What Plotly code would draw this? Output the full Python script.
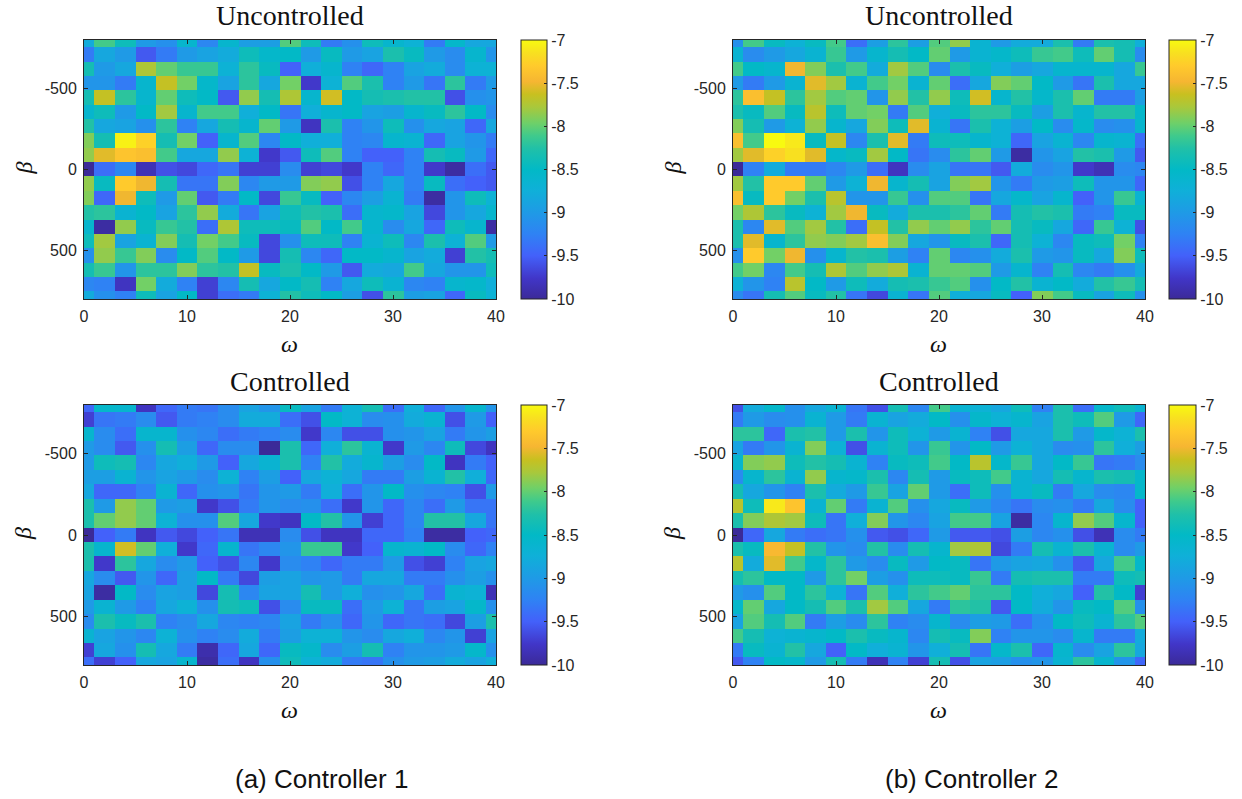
import plotly.graph_objects as go
import numpy as np

omega = list(range(0, 41, 2))
beta = [round(-800 + i * 1600 / 18, 2) for i in range(19)]

# magnitudes of the plotted values (all plotted values are negative)
c1_uncontrolled = [
[8.8,8.1,8.4,9.0,9.1,8.6,9.2,8.6,8.95,8.95,8.05,8.4,9.3,9.1,8.4,8.6,8.7,9.3,8.55,8.85,8.85],
[9.3,8.85,9.0,9.55,9.3,9.0,8.9,8.8,8.4,8.55,8.5,9.0,8.45,9.0,8.9,8.3,8.45,9.0,9.15,8.6,9.05],
[8.35,9.0,8.85,7.75,8.0,8.15,8.15,8.7,8.2,8.45,9.5,8.75,8.6,9.25,9.45,9.25,8.9,8.8,9.15,8.7,8.7],
[9.05,9.05,9.3,8.6,7.65,7.95,8.55,8.9,8.2,8.85,7.95,9.75,8.7,8.05,8.3,9.25,9.0,9.35,8.2,9.3,9.0],
[8.35,7.65,8.2,8.6,8.0,8.4,8.5,9.55,7.85,8.35,7.75,8.6,7.6,8.5,8.35,8.3,8.25,8.25,9.6,9.1,9.05],
[8.6,8.4,9.0,8.5,7.8,8.6,8.1,8.1,8.75,8.5,9.35,8.75,8.6,8.5,8.9,8.95,8.6,8.45,8.2,8.5,9.15],
[8.25,8.85,8.9,9.1,8.2,9.25,8.85,8.35,8.6,8.0,9.0,9.8,8.3,9.25,9.05,8.4,9.1,8.85,8.9,9.45,8.85],
[7.9,8.35,7.05,7.25,8.35,7.95,9.5,8.6,8.05,9.2,8.5,8.75,8.75,9.25,9.2,8.6,8.65,9.45,8.9,9.05,9.3],
[7.85,7.55,7.35,7.4,8.1,8.85,8.85,7.85,8.7,9.75,9.55,8.4,8.05,9.25,9.5,9.5,9.25,8.35,8.45,9.0,9.45],
[10,9.4,9.2,9.85,9.6,9.65,9.45,9.35,9.7,9.7,9.15,9.7,9.65,9.75,9.25,9.45,9.25,9.75,9.95,9.4,9.55],
[7.85,8.45,7.3,7.5,8.35,9.35,9.35,7.9,9.2,9.0,9.0,7.9,7.85,9.6,9.25,8.85,9.25,8.45,9.4,9.5,9.55],
[7.9,9.45,7.5,8.4,9.0,8.0,9.55,9.3,8.5,9.65,8.15,8.45,9.5,9.2,8.95,8.65,9.3,9.95,9.05,8.4,8.7],
[8.25,8.2,8.65,8.5,8.9,8.2,7.85,8.8,9.35,8.9,8.4,8.25,8.3,9.4,8.6,8.55,8.9,9.65,9.05,8.85,8.6],
[8.6,9.95,7.85,8.45,8.15,8.25,9.4,7.75,8.4,8.4,8.45,8.05,8.5,8.1,8.6,9.15,8.85,9.45,8.4,8.6,9.95],
[8.4,7.8,8.9,8.65,7.9,8.35,7.95,8.1,8.45,9.65,9.1,8.4,8.4,9.25,8.65,8.4,9.2,8.3,8.7,8.05,9.0],
[9.1,7.85,8.15,7.9,9.15,8.5,8.05,8.5,9.0,9.65,8.35,9.2,9.45,8.5,8.5,8.6,8.9,8.8,9.7,8.25,8.35],
[8.35,8.15,9.05,8.2,8.2,7.9,8.2,8.25,7.65,8.45,8.3,8.5,9.0,9.55,8.8,8.85,8.1,8.85,9.05,9.05,8.4],
[9.2,9.25,9.8,7.95,8.8,9.25,9.7,9.2,8.35,8.85,8.5,8.35,9.25,8.85,8.4,8.65,9.2,9.25,8.6,8.55,8.75],
[8.8,9.1,9.25,8.4,8.9,8.5,9.7,9.4,9.3,8.7,8.25,8.4,8.5,8.95,9.6,8.2,8.95,8.9,9.45,8.45,8.7],
]
c2_uncontrolled = [
[9.1,8.1,8.45,8.7,8.45,8.1,9.4,8.95,8.2,8.95,8.05,7.85,8.65,9.0,8.8,8.8,8.3,9.3,8.3,8.35,8.75],
[8.65,9.15,9.0,8.85,8.65,8.15,9.0,8.6,8.35,8.5,8.0,9.0,8.65,8.55,8.4,8.15,8.1,8.4,8.0,8.35,9.15],
[8.1,8.5,8.6,7.5,7.9,8.3,8.1,8.8,7.8,8.05,9.15,8.3,8.45,8.75,8.95,8.85,8.6,8.6,8.6,8.85,8.15],
[9.0,9.3,9.0,8.65,7.55,7.8,8.65,8.1,7.95,8.65,8.0,9.4,8.85,7.9,8.0,8.5,9.0,9.35,8.3,8.85,8.85],
[8.2,7.4,7.65,8.2,7.8,8.05,8.0,9.05,7.85,8.25,7.85,8.4,7.6,8.6,8.25,8.55,8.3,8.0,9.3,9.3,8.95],
[8.3,8.45,8.05,8.45,7.7,8.4,8.0,7.95,9.3,8.05,8.75,8.45,8.2,8.2,8.45,8.95,8.3,8.6,8.25,8.25,8.55],
[7.9,8.35,9.0,8.7,7.85,8.6,8.85,7.9,8.4,7.55,8.65,9.35,8.3,8.7,8.95,8.5,9.15,8.55,9.15,9.1,8.6],
[7.4,8.1,7.0,7.1,8.45,7.65,9.2,8.3,7.55,9.3,8.4,8.4,8.6,8.7,9.45,8.9,8.65,9.2,8.6,8.65,9.4],
[7.8,7.55,7.25,7.15,7.55,8.55,8.45,7.8,8.5,9.35,9.15,8.2,8.0,9.0,9.95,9.05,8.9,8.25,8.3,9.0,9.55],
[10,9.25,8.8,9.3,9.3,9.2,9.0,9.4,9.8,9.15,8.9,9.35,9.35,9.55,8.8,9.15,9.05,9.75,9.85,9.15,9.2],
[7.8,8.25,7.3,7.3,8.0,9.0,8.7,7.5,8.6,8.35,8.9,7.9,7.8,9.05,9.3,9.0,8.95,8.4,9.05,9.05,9.45],
[7.4,8.45,7.3,7.95,8.3,7.7,9.05,9.05,8.15,9.1,8.05,8.05,9.35,8.85,8.55,8.9,8.6,9.5,9.05,8.15,8.65],
[7.95,7.75,8.2,8.45,8.7,7.8,7.5,8.45,8.8,8.3,8.3,8.2,8.0,9.3,8.35,8.25,8.3,9.3,9.25,8.45,8.45],
[8.3,9.2,7.55,8.05,7.8,8.25,9.4,7.65,8.25,7.85,8.0,7.85,8.2,8.0,8.35,8.45,8.85,9.45,8.15,8.7,9.6],
[8.3,7.55,8.6,8.2,7.85,7.9,7.8,7.4,7.9,8.85,9.05,8.45,8.3,9.45,8.35,8.7,9.2,8.45,8.4,7.95,9.25],
[9.1,7.3,7.95,7.5,9.1,8.6,8.25,8.3,8.95,9.25,8.0,9.2,9.1,8.8,8.3,9.0,9.05,8.45,8.85,7.9,8.4],
[8.1,7.95,9.2,8.1,8.35,7.75,8.05,7.85,7.75,8.65,8.0,8.0,8.05,9.0,8.6,9.25,8.35,9.2,9.3,9.1,8.8],
[8.7,9.05,9.25,7.7,8.5,9.0,8.4,8.8,8.35,8.3,8.15,8.05,9.1,8.5,8.25,8.65,8.5,8.8,8.25,8.15,8.35],
[9.15,9.35,8.35,8.05,8.45,8.25,9.35,9.65,8.65,9.35,8.05,8.75,8.85,8.45,9.5,7.9,8.1,8.45,8.9,8.4,9.1],
]
c1_controlled = [
[9.45,8.55,8.6,9.8,9.45,9.3,9.35,9.15,8.9,9.05,8.45,8.9,9.3,8.7,8.35,9.4,8.75,9.45,9.05,8.6,9.05],
[9.7,9.35,9.3,9.15,9.55,9.3,9.25,9.15,8.8,8.8,9.4,9.6,8.5,8.7,9.15,9.1,8.8,8.65,9.6,9.0,9.5],
[8.6,9.15,9.4,8.6,8.6,9.1,9.2,9.4,9.3,9.25,9.15,9.75,9.2,9.6,9.6,9.1,9.05,8.9,9.3,9.05,8.95],
[9.0,9.15,9.55,9.1,8.35,8.95,9.45,9.15,9.15,10.0,8.3,9.45,8.75,8.2,8.65,9.75,9.0,9.2,8.4,9.65,9.8],
[9.0,8.4,8.35,9.2,8.85,8.75,9.0,9.5,8.85,8.65,8.3,9.25,8.25,8.8,8.6,8.95,9.15,8.5,9.8,9.3,9.5],
[8.95,8.95,8.65,9.05,8.9,9.0,9.15,8.7,9.25,8.95,9.5,8.85,8.7,8.85,9.3,9.3,8.95,8.65,8.25,8.75,9.45],
[8.85,9.45,9.45,9.25,8.65,9.45,9.1,9.05,9.35,9.05,9.0,9.3,8.75,9.4,9.05,8.5,9.1,9.2,9.25,9.6,9.0],
[8.3,9.0,7.85,8.0,9.0,8.95,9.75,9.6,9.3,9.05,9.15,9.1,9.4,9.75,9.05,9.45,9.2,9.4,9.0,9.35,9.35],
[8.3,8.0,7.85,8.0,8.7,9.1,9.1,8.05,8.85,9.75,9.8,8.5,8.25,9.05,9.7,9.45,9.2,8.25,8.25,8.85,9.35],
[10,9.5,9.3,9.8,9.55,9.65,9.5,9.35,9.85,9.85,9.15,9.6,9.8,9.8,9.45,9.45,9.25,9.95,9.95,9.5,9.45],
[8.3,8.6,7.6,8.0,8.75,9.75,9.45,8.6,9.35,9.2,9.05,8.15,8.15,9.75,9.5,8.6,8.65,8.5,9.15,9.45,9.25],
[8.3,9.75,8.2,8.85,9.15,9.0,9.5,9.6,9.2,9.75,9.15,9.25,9.45,9.3,9.3,9.0,9.6,9.7,9.25,8.9,8.85],
[8.85,9.15,9.55,9.05,9.45,8.95,8.5,9.3,9.65,8.95,8.9,9.05,9.0,9.3,8.85,8.85,9.3,9.3,9.1,8.95,9.1],
[8.9,9.95,8.5,9.15,8.9,8.95,9.65,8.35,9.2,8.9,8.9,8.35,9.0,8.75,9.1,9.05,8.85,9.4,8.65,8.7,9.85],
[9.0,8.65,9.0,9.25,8.85,8.7,9.1,8.35,8.4,9.6,9.15,8.45,8.45,9.4,9.0,8.7,9.35,8.95,8.9,8.55,9.1],
[9.15,8.3,8.45,8.3,9.25,9.15,8.85,9.2,9.25,9.2,8.9,9.3,9.1,9.45,9.05,9.45,9.35,9.4,9.65,8.95,8.3],
[8.65,8.9,9.05,9.2,8.7,9.1,9.25,9.15,8.8,9.3,8.95,8.7,8.7,9.05,9.15,8.85,8.75,9.2,9.05,9.7,8.9],
[9.7,8.85,9.1,8.35,8.85,9.3,9.9,9.45,8.85,9.45,8.45,8.55,9.15,8.95,8.35,9.25,9.05,9.05,9.0,8.55,9.1],
[9.4,9.7,9.5,8.85,8.9,8.6,9.95,9.4,9.8,9.1,8.4,8.7,8.8,9.3,9.35,9.1,9.0,8.95,8.8,8.9,8.75],
]
c2_controlled = [
[9.6,8.8,8.55,9.1,8.85,8.65,9.35,9.6,8.35,9.2,8.1,8.65,8.7,8.85,8.4,9.25,8.3,9.4,8.55,8.4,8.65],
[9.3,9.0,9.15,9.1,8.65,9.0,9.3,8.65,8.9,8.8,8.5,9.1,8.55,8.7,8.6,8.9,8.3,8.4,8.05,9.0,9.45],
[8.2,8.2,9.45,8.3,8.25,9.0,8.3,9.05,8.4,8.7,9.0,8.65,9.25,9.6,8.85,8.85,8.3,9.0,8.55,8.7,8.3],
[8.9,9.3,9.05,8.65,7.9,8.7,9.6,8.65,8.4,9.05,8.15,9.05,8.5,9.0,8.7,8.85,9.15,9.1,8.2,8.75,8.95],
[8.6,7.9,7.85,8.4,8.25,8.35,8.65,9.25,8.45,8.4,8.1,8.5,7.7,8.55,8.15,8.85,8.5,8.15,9.35,9.3,9.15],
[9.15,8.6,8.2,8.65,7.85,8.6,8.55,8.3,9.2,8.35,9.0,8.45,8.4,8.1,8.65,8.85,8.35,8.6,8.3,8.35,8.55],
[8.35,8.85,9.05,9.25,8.3,8.8,9.0,8.15,8.9,8.0,9.0,9.4,8.4,9.1,8.65,8.45,9.3,8.85,9.15,9.2,8.55],
[7.7,8.4,7.1,7.35,8.65,8.0,9.3,8.65,8.05,9.1,8.85,8.45,9.0,9.2,9.35,9.15,9.1,9.3,8.85,9.15,9.5],
[8.3,7.9,7.75,7.8,8.4,9.35,8.75,7.9,9.05,9.2,8.9,8.1,8.1,8.9,9.95,9.2,8.6,7.85,8.05,8.6,9.5],
[10,9.45,8.85,9.3,9.4,9.35,9.1,9.55,9.6,9.45,9.0,9.55,9.55,9.6,8.95,9.2,9.1,9.6,9.85,9.15,9.3],
[8.3,8.45,7.45,7.65,8.25,9.05,9.15,8.25,9.15,8.35,8.6,7.8,7.75,9.65,9.3,8.35,8.65,8.3,8.65,9.15,9.0],
[7.7,8.8,7.55,8.1,8.55,8.2,9.0,9.15,8.45,9.0,8.5,8.45,9.35,9.0,8.9,8.85,9.1,9.55,8.85,8.1,8.55],
[8.35,8.2,8.5,8.5,9.0,8.2,7.95,8.95,9.1,8.4,8.4,8.45,8.15,9.3,8.35,8.3,8.3,9.3,9.3,8.4,8.35],
[9.0,9.1,8.05,8.5,8.2,8.7,9.35,8.05,8.75,8.2,8.1,8.0,8.2,8.2,8.5,8.75,8.85,9.5,8.25,8.5,9.7],
[8.55,8.0,8.85,8.5,8.35,8.05,8.3,7.8,8.05,8.85,9.3,8.2,8.25,9.55,8.5,8.8,9.05,8.45,8.5,8.05,9.1],
[8.9,8.05,8.35,8.05,9.3,8.95,9.15,8.2,9.25,9.15,8.6,9.15,8.95,9.0,9.4,9.1,8.5,8.4,8.65,8.2,8.05],
[8.1,8.35,8.7,8.65,8.6,8.5,8.3,8.45,8.6,9.2,8.35,8.45,7.9,9.25,9.05,9.05,9.15,8.6,9.3,9.3,8.8],
[9.3,8.45,8.65,8.25,8.85,9.5,8.5,8.75,8.65,9.05,8.75,8.35,9.35,8.55,8.3,9.45,8.6,9.15,8.9,8.2,8.85],
[9.55,9.25,8.5,8.55,9.0,8.35,9.3,9.85,9.25,9.7,8.35,9.6,8.9,8.95,9.1,9.05,8.65,8.2,8.6,9.05,9.45],
]
titles = ["Uncontrolled", "Uncontrolled", "Controlled", "Controlled"]
captions = ["(a) Controller 1", "(b) Controller 2"]
cb_ticks = [-7, -7.5, -8, -8.5, -9, -9.5, -10]
cb_text = ["-7", "-7.5", "-8", "-8.5", "-9", "-9.5", "-10"]

parula = [
    [0.00, "#3b2a98"], [0.08, "#4136c8"], [0.167, "#4361fa"], [0.25, "#2f82f4"],
    [0.333, "#1f9ae6"], [0.42, "#0fb0d8"], [0.50, "#02b9c6"], [0.58, "#20c0a8"],
    [0.63, "#3fca8c"], [0.68, "#6fd068"], [0.74, "#a8c83c"], [0.79, "#c8c020"],
    [0.84, "#f6b632"], [0.90, "#ffca2c"], [0.95, "#f8e020"], [1.00, "#f8fa10"],
]

W, H = 1242, 799
INK = "#262626"
sans = "Liberation Sans"
serif = "Liberation Serif"
panels = [
    (c1_uncontrolled, 84, 496, 40, 299, 521, 547),
    (c2_uncontrolled, 733, 1145, 40, 299, 1169, 1196),
    (c1_controlled, 84, 496, 405, 665, 521, 547),
    (c2_controlled, 733, 1145, 405, 665, 1169, 1196),
]

fig = go.Figure()
layout = {}
ann = []
for i, (vals, x0, x1, y0, y1, c0, c1) in enumerate(panels):
    assert len(vals) == 19 and all(len(r) == 21 for r in vals)
    n = i + 1
    z = (-np.array(vals)).tolist()
    fig.add_trace(go.Heatmap(
        x=omega, y=beta, z=z, xaxis=f"x{n}", yaxis=f"y{n}", zmin=-10, zmax=-7,
        colorscale=parula,
        colorbar=dict(
            x=c0 / W, xanchor="left", xref="paper", y=1 - y1 / H, yanchor="bottom", yref="paper",
            len=(y1 - y0) / H, lenmode="fraction", thickness=c1 - c0, thicknessmode="pixels",
            tickmode="array", tickvals=cb_ticks, ticktext=cb_text, ticks="inside", ticklen=3,
            tickcolor=INK, outlinecolor=INK, outlinewidth=1, tickfont=dict(family=sans, size=16, color=INK),
            xpad=0, ypad=0,
        ),
    ))
    axis = dict(showgrid=False, zeroline=False, showline=True, linecolor=INK, linewidth=1, mirror="ticks",
                ticks="inside", ticklen=4, tickcolor=INK, tickfont=dict(family=sans, size=16, color=INK))
    layout[f"xaxis{n}"] = dict(axis, domain=[x0 / W, x1 / W], anchor=f"y{n}", range=[0, 40], ticklabelstandoff=3,
                               tickmode="array", tickvals=[0, 10, 20, 30, 40], ticktext=["0", "10", "20", "30", "40"])
    layout[f"yaxis{n}"] = dict(axis, domain=[1 - y1 / H, 1 - y0 / H], anchor=f"x{n}", range=[800, -800], ticklabelstandoff=3,
                               tickmode="array", tickvals=[-500, 0, 500], ticktext=["-500", "0", "500"])
    cx = (x0 + x1) / 2
    ann.append(dict(text=titles[i], x=cx / W, y=1 - (y0 - 24) / H, xref="paper", yref="paper", showarrow=False,
                    xanchor="center", yanchor="middle", font=dict(family=serif, size=28, color="#111111")))
    ann.append(dict(text="<i>ω</i>", x=(cx - 1) / W, y=1 - (y1 + 45) / H, xref="paper", yref="paper", showarrow=False,
                    xanchor="center", yanchor="middle", font=dict(family=serif, size=24, color="#111111")))
    ann.append(dict(text="<i>β</i>", x=(x0 - 61) / W, y=1 - ((y0 + y1) / 2 - 1) / H, xref="paper", yref="paper",
                    showarrow=False, textangle=-90, xanchor="center", yanchor="middle",
                    font=dict(family=serif, size=24, color="#111111")))
for cap, cx in zip(captions, (321, 971)):
    ann.append(dict(text=cap, x=cx / W, y=1 - 779 / H, xref="paper", yref="paper", showarrow=False,
                    xanchor="center", yanchor="middle", font=dict(family=sans, size=26, color="#111111")))

fig.update_layout(width=W, height=H, margin=dict(l=0, r=0, t=0, b=0, autoexpand=False), paper_bgcolor="white",
                  plot_bgcolor="white", annotations=ann, showlegend=False, **layout)
fig.write_html("out.html", config={"displayModeBar": False}, post_script="document.body.style.margin='0';")
